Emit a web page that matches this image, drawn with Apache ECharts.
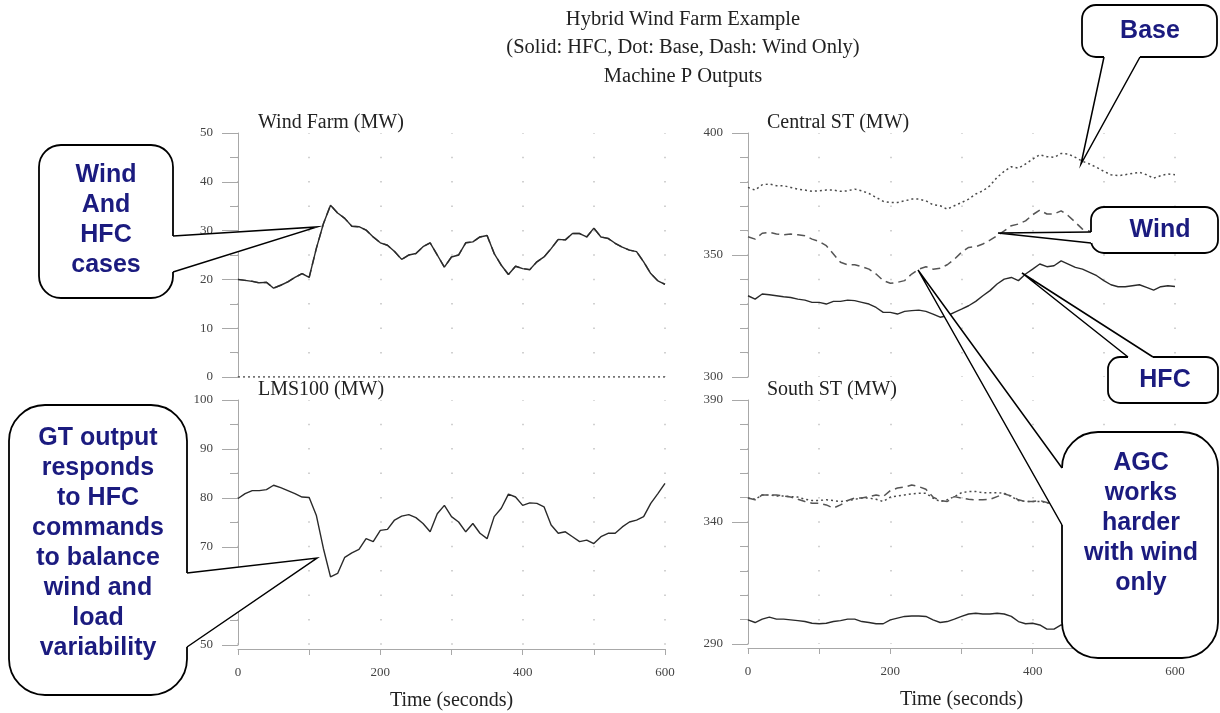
<!DOCTYPE html>
<html>
<head>
<meta charset="utf-8">
<script src="https://cdn.jsdelivr.net/npm/echarts@6/dist/echarts.min.js"></script>
<style>
  html, body { margin: 0; padding: 0; background: #fff; }
  #chart { width: 1220px; height: 713px; }
</style>
</head>
<body>
<div id="chart"></div>
<script>
// time axis, seconds
const time = [0, 10, 20, 30, 40, 50, 60, 70, 80, 90, 100, 110, 120, 130, 140, 150, 160, 170, 180, 190, 200,
  210, 220, 230, 240, 250, 260, 270, 280, 290, 300, 310, 320, 330, 340, 350, 360, 370, 380, 390, 400,
  410, 420, 430, 440, 450, 460, 470, 480, 490, 500, 510, 520, 530, 540, 550, 560, 570, 580, 590, 600];

// Wind Farm (MW) - wind and HFC cases are the same, base case has no wind
const windFarm = [20.0, 19.8, 19.6, 19.3, 19.4, 18.2, 18.8, 19.5, 20.4, 21.2, 20.4,
  26.3, 31.4, 35.2, 33.6, 32.5, 30.9, 30.8, 30.1, 28.7, 27.5,
  27.0, 25.7, 24.1, 25.0, 25.3, 26.7, 27.5, 25.0, 22.5, 24.6,
  25.0, 27.5, 27.7, 28.7, 29.0, 25.3, 22.9, 21.0, 22.7, 22.2,
  22.0, 23.6, 24.6, 26.3, 28.2, 28.1, 29.4, 29.4, 28.7, 30.5,
  28.7, 28.4, 27.4, 26.6, 26.0, 25.7, 23.6, 21.2, 19.7, 19.0];
const windFarmBase = [[0, 0], [600, 0]];

// LMS100 (MW)
const lms100 = [79.9, 80.9, 81.5, 81.5, 81.7, 82.6, 82.1, 81.5, 80.9, 80.2, 80.1,
  76.5, 69.7, 63.9, 64.6, 67.9, 68.8, 69.5, 71.7, 71.1, 73.4,
  73.6, 75.5, 76.3, 76.6, 76.0, 74.8, 73.1, 76.8, 78.5, 76.2,
  75.1, 73.1, 74.8, 72.8, 71.7, 76.2, 77.9, 80.8, 80.2, 78.5,
  79.0, 78.9, 78.2, 74.5, 72.8, 73.1, 72.1, 71.1, 71.4, 70.7,
  72.1, 72.8, 72.8, 74.1, 75.1, 75.5, 76.2, 78.9, 80.9, 83.0];

// Central ST (MW)
const centralBase = [377.7, 376.6, 378.8, 379.1, 378.4, 378.4, 377.7, 377.0, 376.6, 376.1, 376.3,
  376.6, 376.6, 376.1, 376.3, 377.0, 376.3, 375.2, 373.6, 372.0, 371.5,
  371.5, 372.2, 372.9, 372.9, 372.2, 370.6, 370.2, 368.8, 370.2, 371.5,
  372.9, 375.0, 376.3, 378.4, 381.8, 384.3, 386.2, 385.6, 387.3, 389.3,
  391.1, 390.3, 390.0, 391.6, 391.4, 390.0, 388.4, 387.3, 385.9, 384.3,
  382.9, 382.5, 382.9, 383.4, 383.9, 382.9, 381.5, 382.5, 383.2, 382.9];
const centralWind = [357.5, 356.5, 358.9, 359.3, 358.6, 358.3, 358.6, 358.3, 357.9, 356.5, 355.6,
  353.8, 350.4, 347.0, 346.0, 346.0, 345.2, 344.2, 342.2, 339.5, 338.4,
  338.8, 339.5, 342.2, 344.2, 345.2, 344.2, 344.6, 346.0, 348.3, 351.1,
  353.1, 353.4, 354.5, 356.1, 357.9, 359.9, 362.0, 362.7, 364.0, 366.5,
  368.4, 366.8, 366.8, 368.1, 366.1, 363.4, 360.6, 359.7, 358.6, 357.5,
  356.8, 356.2, 355.9, 355.5, 355.2, 355.0, 354.8, 354.6, 354.5, 354.4];
const centralHfc = [333.3, 331.9, 334.0, 333.7, 333.3, 332.9, 332.6, 331.9, 331.5, 330.6, 330.6,
  329.9, 331.0, 331.0, 331.5, 331.3, 330.6, 329.9, 328.5, 326.5, 326.5,
  325.8, 326.9, 327.2, 327.4, 326.9, 325.8, 324.5, 325.1, 326.5, 327.8,
  329.2, 331.0, 333.3, 335.4, 338.1, 340.1, 340.8, 339.5, 342.2, 344.2,
  346.3, 345.2, 345.6, 347.6, 346.3, 344.9, 344.2, 342.9, 341.5, 339.5,
  337.8, 337.0, 337.0, 337.4, 337.8, 336.7, 335.6, 337.0, 337.4, 337.1];

// South ST (MW)
const southBase = [349.8, 349.3, 351.1, 351.1, 350.7, 350.7, 350.4, 350.2, 349.3, 348.8, 348.8,
  349.1, 348.8, 348.4, 348.8, 349.3, 349.8, 349.8, 349.3, 348.4, 350.2,
  350.7, 351.1, 351.5, 351.8, 351.8, 349.8, 348.4, 349.1, 350.4, 352.0,
  352.5, 352.5, 352.0, 352.0, 352.0, 351.8, 350.4, 348.8, 348.4, 348.4,
  348.4, 348.0, 347.0, 347.5, 348.0, 348.3, 348.6, 348.8, 349.0, 349.2,
  349.3, 349.5, 349.4, 349.2, 349.0, 349.1, 349.3, 349.4, 349.2, 349.0];
const southWind = [349.8, 349.1, 351.1, 351.1, 351.1, 350.7, 350.2, 349.3, 348.4, 347.7, 347.7,
  347.0, 345.7, 347.0, 348.8, 349.8, 349.8, 350.4, 351.1, 350.4, 352.9,
  353.9, 354.3, 355.2, 354.5, 353.4, 350.2, 348.8, 348.4, 350.4, 349.8,
  349.3, 349.1, 349.1, 349.3, 350.4, 351.5, 350.7, 349.1, 348.4, 348.4,
  348.8, 348.0, 346.3, 346.8, 347.5, 348.0, 348.5, 348.9, 349.2, 349.0,
  348.8, 348.9, 349.1, 349.3, 349.0, 348.7, 348.9, 349.2, 349.1, 348.9];
const southHfc = [299.9, 298.8, 300.2, 301.0, 300.2, 300.2, 299.9, 299.6, 299.2, 298.5, 298.3,
  298.5, 299.2, 299.6, 300.2, 300.2, 299.2, 298.8, 298.3, 298.3, 299.9,
  300.6, 301.3, 301.5, 301.5, 301.3, 299.9, 298.8, 299.2, 300.2, 301.3,
  302.3, 302.6, 302.3, 302.3, 302.6, 302.3, 301.3, 299.2, 298.3, 298.5,
  297.8, 296.1, 296.1, 297.8, 298.0, 298.5, 299.0, 298.8, 298.5, 298.6,
  298.9, 299.2, 299.0, 298.8, 298.6, 298.9, 299.1, 299.0, 298.8, 298.9];

const serif = '"Liberation Serif", "DejaVu Serif", serif';
const sans = '"Liberation Sans", Arial, sans-serif';
const axisGray = '#a8a8a8';
const calloutBlue = '#1b1b7f';

const chart = echarts.init(document.getElementById('chart'));

function pairs(vals) {
  return time.map((t, i) => [t, vals[i]]);
}

function xAx(gridIndex, bottom) {
  return {
    type: 'value', gridIndex: gridIndex, min: 0, max: 600, interval: 100,
    offset: bottom ? 4 : 0,
    axisLine: { show: bottom, onZero: false, lineStyle: { color: axisGray } },
    axisTick: { show: bottom, length: 6, lineStyle: { color: axisGray } },
    axisLabel: {
      show: bottom, margin: 17, color: '#444', fontFamily: serif, fontSize: 13,
      formatter: v => (v % 200 === 0 ? String(v) : '')
    },
    splitLine: { show: true, lineStyle: { color: '#c2c2c2', width: 1.5, type: [1.5, 22.9], dashOffset: 0.7 } },
    name: bottom ? 'Time (seconds)' : '',
    nameLocation: 'middle', nameGap: 42,
    nameTextStyle: { fontFamily: serif, fontSize: 20, color: '#222' }
  };
}

function yAx(gridIndex, min, max, interval, minorSplit) {
  return {
    type: 'value', gridIndex: gridIndex, min: min, max: max, interval: interval,
    axisLine: { show: true, onZero: false, lineStyle: { color: axisGray } },
    axisTick: { show: true, length: 16, lineStyle: { color: axisGray } },
    minorTick: { show: true, splitNumber: minorSplit, length: 8, lineStyle: { color: axisGray } },
    axisLabel: { margin: 25, color: '#444', fontFamily: serif, fontSize: 13 },
    splitLine: { show: false }
  };
}

const solid = { color: '#2a2a2a', width: 1.4, type: 'solid' };
const dotted = { color: '#4a4a4a', width: 1.5, type: [2, 3] };
const dashed = { color: '#555', width: 1.5, type: [8, 5] };

function line(name, idx, data, style) {
  return {
    name: name, type: 'line', xAxisIndex: idx, yAxisIndex: idx,
    data: data, showSymbol: false, symbol: 'none',
    lineStyle: style, itemStyle: { color: style.color }
  };
}

// speech bubble: rounded box + white pointer + text
function bubble(b) {
  return [
    { type: 'rect', z: 100,
      shape: { x: b.x, y: b.y, width: b.w, height: b.h, r: b.r },
      style: { fill: '#fff', stroke: '#000', lineWidth: 1.8 } },
    { type: 'polygon', z: 101,
      shape: { points: [b.p1, b.tip, b.p2] },
      style: { fill: '#fff', stroke: null } },
    { type: 'line', z: 101,
      shape: { x1: b.p1[0], y1: b.p1[1], x2: b.p2[0], y2: b.p2[1] },
      style: { stroke: '#fff', lineWidth: 3.5 } },
    { type: 'polyline', z: 102,
      shape: { points: [b.p1, b.tip, b.p2] },
      style: { fill: null, stroke: '#000', lineWidth: 1.5 } },
    { type: 'text', z: 103, x: b.tx, y: b.ty,
      style: {
        text: b.text, fill: calloutBlue,
        font: 'bold 25px ' + sans, align: 'center', verticalAlign: 'middle', lineHeight: 30
      } }
  ];
}

const bubbles = [
  { x: 39, y: 145, w: 134, h: 153, r: 22, p1: [173, 236], tip: [317, 227], p2: [173, 272],
    text: 'Wind\nAnd\nHFC\ncases', tx: 106, ty: 220 },
  { x: 9, y: 405, w: 178, h: 290, r: 36, p1: [187, 573], tip: [317, 558], p2: [187, 647],
    text: 'GT output\nresponds\nto HFC\ncommands\nto balance\nwind and\nload\nvariability', tx: 98, ty: 543 },
  { x: 1082, y: 5, w: 135, h: 52, r: 14, p1: [1104, 57], tip: [1081, 164], p2: [1140, 57],
    text: 'Base', tx: 1150, ty: 31 },
  { x: 1091, y: 207, w: 127, h: 46, r: 13, p1: [1091, 232], tip: [998, 233], p2: [1091, 243],
    text: 'Wind', tx: 1160, ty: 230 },
  { x: 1108, y: 357, w: 110, h: 46, r: 12, p1: [1128, 357], tip: [1022, 273], p2: [1153, 357],
    text: 'HFC', tx: 1165, ty: 380 },
  { x: 1062, y: 432, w: 156, h: 226, r: 36, p1: [1062, 468], tip: [918, 270], p2: [1062, 525],
    text: 'AGC\nworks\nharder\nwith wind\nonly', tx: 1141, ty: 523 }
];

let graphics = [
  { type: 'text', x: 683, y: 5, z: 50,
    style: { text: 'Hybrid Wind Farm Example\n(Solid: HFC, Dot: Base, Dash: Wind Only)\nMachine P Outputs',
      font: '20.5px ' + serif, fill: '#222', align: 'center', verticalAlign: 'top', lineHeight: 28.5 } },
  { type: 'text', x: 258, y: 113, z: 50, style: { text: 'Wind Farm (MW)', font: '20px ' + serif, fill: '#222' } },
  { type: 'text', x: 767, y: 113, z: 50, style: { text: 'Central ST (MW)', font: '20px ' + serif, fill: '#222' } },
  { type: 'text', x: 258, y: 380, z: 50, style: { text: 'LMS100 (MW)', font: '20px ' + serif, fill: '#222' } },
  { type: 'text', x: 767, y: 380, z: 50, style: { text: 'South ST (MW)', font: '20px ' + serif, fill: '#222' } }
];
bubbles.forEach(b => { graphics = graphics.concat(bubble(b)); });

const option = {
  animation: false,
  backgroundColor: '#fff',
  grid: [
    { left: 238, top: 133, width: 427, height: 244 },
    { left: 748, top: 133, width: 427, height: 244 },
    { left: 238, top: 400, width: 427, height: 245 },
    { left: 748, top: 400, width: 427, height: 244 }
  ],
  xAxis: [xAx(0, false), xAx(1, false), xAx(2, true), xAx(3, true)],
  yAxis: [
    yAx(0, 0, 50, 10, 2),
    yAx(1, 300, 400, 50, 5),
    yAx(2, 50, 100, 10, 2),
    yAx(3, 290, 390, 50, 5)
  ],
  series: [
    line('Base', 0, windFarmBase, dotted),
    line('Wind Only', 0, pairs(windFarm), dashed),
    line('HFC', 0, pairs(windFarm), solid),
    line('Base', 1, pairs(centralBase), dotted),
    line('Wind Only', 1, pairs(centralWind), dashed),
    line('HFC', 1, pairs(centralHfc), solid),
    line('HFC', 2, pairs(lms100), solid),
    line('Base', 3, pairs(southBase), dotted),
    line('Wind Only', 3, pairs(southWind), dashed),
    line('HFC', 3, pairs(southHfc), solid)
  ],
  graphic: { elements: graphics }
};

chart.setOption(option);
window.addEventListener('resize', () => {
  chart.resize();
});
</script>
</body>
</html>
